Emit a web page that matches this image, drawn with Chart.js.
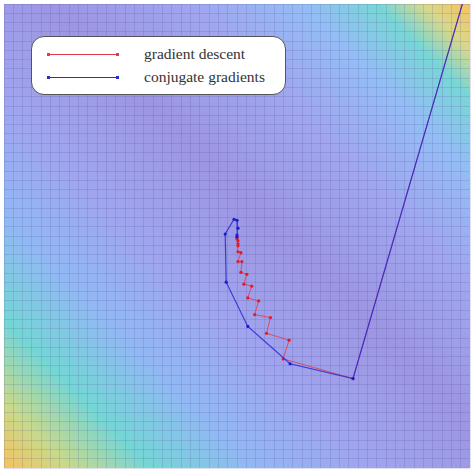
<!DOCTYPE html>
<html>
<head>
<meta charset="UTF-8">
<script src="https://cdn.jsdelivr.net/npm/chart.js"></script>
<style>
  body { margin: 0; background: #fff; }
  #wrap { position: relative; width: 474px; height: 472px; }
  #legend { position: absolute; left: 31px; top: 36px; width: 255px; height: 59px;
    background: #fff; border: 1px solid #555; border-radius: 13px; box-sizing: border-box;
    font-family: "Liberation Serif", "DejaVu Serif", serif; font-size: 15.5px; color: #333; }
  .row { position: absolute; left: 0; height: 20px; width: 100%; }
  .row span.ln { position: absolute; left: 16px; top: 9px; width: 70px; height: 1px; }
  .row span.ln::before, .row span.ln::after { content: ""; position: absolute; top: -1px; width: 3px; height: 3px; background: inherit; }
  .row span.ln::before { left: -1px; } .row span.ln::after { right: -1px; }
  .row span.tx { position: absolute; left: 112px; top: 0; }
</style>
</head>
<body>
<div id="wrap">
  <canvas id="c" width="474" height="472"></canvas>
  <div id="legend">
    <div class="row" style="top:8px"><span class="ln" style="background:#e23b4a"></span><span class="tx">gradient descent</span></div>
    <div class="row" style="top:31px"><span class="ln" style="background:#2a2ad0"></span><span class="tx">conjugate gradients</span></div>
  </div>
</div>
<script>
// path points (x, y in plot units, y up)
const gdX = [475, 355, 284, 290, 267, 271, 255, 259, 248, 252, 244, 247, 241, 242, 238, 241, 238, 238, 238, 238, 237, 237];
const gdY = [502, 91, 111, 130, 137, 153, 156, 170, 173, 185, 187, 197, 199, 210, 210, 219, 220, 226, 228, 231, 233, 235];
const cgX = [475, 355, 291, 248, 226, 225, 234, 237, 238, 237, 237];
const cgY = [502, 91, 106, 144, 189, 238, 253, 252, 244, 237, 235];

const toPts = (xs, ys) => xs.map((x, i) => ({ x: x, y: ys[i] }));

const bgPlugin = {
  id: 'bg',
  beforeDraw(chart) {
    const { ctx, chartArea: a } = chart;
    const g = ctx.createLinearGradient(a.left, a.bottom, a.right, a.top);
    g.addColorStop(0.00, '#f7c25e');
    g.addColorStop(0.07, '#c9d98a');
    g.addColorStop(0.16, '#74d6d6');
    g.addColorStop(0.27, '#92b8f4');
    g.addColorStop(0.40, '#a0a4ee');
    g.addColorStop(0.55, '#9d96e2');
    g.addColorStop(0.70, '#a0a6ee');
    g.addColorStop(0.82, '#94bdf5');
    g.addColorStop(0.90, '#78d6d6');
    g.addColorStop(0.95, '#d8d88a');
    g.addColorStop(1.00, '#f7c25e');
    ctx.save();
    ctx.fillStyle = g;
    ctx.fillRect(a.left, a.top, a.right - a.left, a.bottom - a.top);
    ctx.restore();
  }
};

new Chart(document.getElementById('c'), {
  type: 'scatter',
  data: {
    datasets: [{
      label: 'conjugate gradients',
      data: toPts(cgX, cgY),
      showLine: true,
      borderColor: 'rgba(40,40,210,0.85)',
      backgroundColor: '#1a1ad0',
      borderWidth: 1.2,
      pointRadius: 1.6,
      pointBorderWidth: 0
    }, {
      label: 'gradient descent',
      data: toPts(gdX, gdY),
      showLine: true,
      borderColor: 'rgba(235,50,60,0.75)',
      backgroundColor: '#e01b2a',
      borderWidth: 1,
      pointRadius: 1.6,
      pointBorderWidth: 0
    }]
  },
  options: {
    responsive: false,
    animation: false,
    layout: { padding: 2 },
    plugins: { legend: { display: false }, tooltip: { enabled: false } },
    scales: {
      x: { type: 'linear', min: 0, max: 474, ticks: { display: false, stepSize: 9.48 },
           grid: { color: 'rgba(70,70,140,0.16)', lineWidth: 1, drawTicks: false }, border: { display: false } },
      y: { type: 'linear', min: 0, max: 472, ticks: { display: false, stepSize: 9.44 },
           grid: { color: 'rgba(70,70,140,0.16)', lineWidth: 1, drawTicks: false }, border: { display: false } }
    }
  },
  plugins: [bgPlugin]
});
</script>
</body>
</html>
